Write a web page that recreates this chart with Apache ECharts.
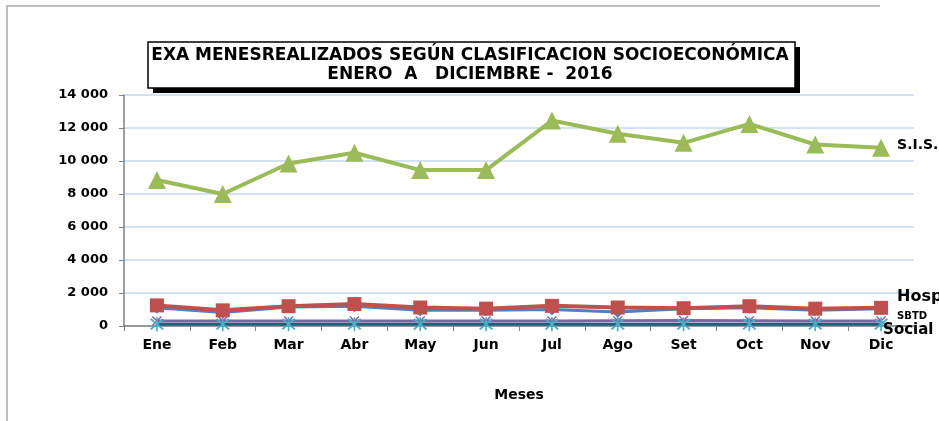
<!DOCTYPE html>
<html>
<head>
<meta charset="utf-8">
<style>
  html, body { margin: 0; padding: 0; background: #fff; }
  #chart { width: 939px; height: 421px; }
</style>
</head>
<body>
<div id="chart"></div>
<script src="https://cdn.jsdelivr.net/npm/echarts@6/dist/echarts.min.js"></script>
<script>
const meses = ['Ene', 'Feb', 'Mar', 'Abr', 'May', 'Jun', 'Jul', 'Ago', 'Set', 'Oct', 'Nov', 'Dic'];
const sis = [8850, 8000, 9850, 10500, 9450, 9450, 12450, 11650, 11100, 12250, 11000, 10800];
const hosp = [1250, 950, 1200, 1330, 1120, 1050, 1220, 1120, 1080, 1200, 1050, 1100];
const sbtd = [1100, 820, 1150, 1200, 960, 950, 1000, 850, 1050, 1100, 960, 1050];
const otros = [300, 300, 300, 300, 300, 300, 300, 320, 330, 320, 300, 300];
const social = [110, 110, 110, 110, 110, 110, 110, 110, 110, 110, 110, 110];
const titulo1 = 'EXA MENESREALIZADOS SEGÚN CLASIFICACION SOCIOECONÓMICA';
const titulo2 = 'ENERO  A   DICIEMBRE -  2016';

const fmt = v => String(v).replace(/\B(?=(\d{3})+(?!\d))/g, ' ');
const boldFont = '"DejaVu Sans", Verdana, sans-serif';
const titleFont = 'bold 17px "DejaVu Sans", Verdana, sans-serif';
const crossPath = 'path://M0,1L1,0L5,4L9,0L10,1L6,5L10,9L9,10L5,6L1,10L0,9L4,5Z';
const starPath = 'path://M0,1L1,0L5,4L9,0L10,1L6,5L10,9L9,10L5,6L1,10L0,9L4,5Z M4.4,-1h1.2v12h-1.2Z';

const chart = echarts.init(document.getElementById('chart'));

const endLbl = (text, dx, dy, size) => ({
  show: true,
  formatter: text,
  offset: [dx, dy],
  color: '#000',
  fontWeight: 'bold',
  fontSize: size,
  fontFamily: boldFont
});

chart.setOption({
  animation: false,
  grid: { left: 124, right: 25, top: 95, bottom: 95 },
  graphic: [
    { type: 'polyline', shape: { points: [[7, 421], [7, 6], [880, 6]] },
      style: { stroke: '#a6a6a6', lineWidth: 1.5, fill: null } },
    { type: 'rect', shape: { x: 153, y: 47, width: 647, height: 46 }, style: { fill: '#000' } },
    { type: 'rect', shape: { x: 148, y: 42, width: 647, height: 46 },
      style: { fill: '#fff', stroke: '#000', lineWidth: 1.5 } },
    { type: 'text', x: 470, y: 56, style: { text: titulo1, align: 'center', verticalAlign: 'middle',
      font: titleFont, fill: '#000' } },
    { type: 'text', x: 470, y: 75, style: { text: titulo2, align: 'center', verticalAlign: 'middle',
      font: titleFont, fill: '#000' } }
  ],
  xAxis: {
    type: 'category',
    data: meses,
    boundaryGap: true,
    name: 'Meses',
    nameLocation: 'middle',
    nameGap: 62,
    nameTextStyle: { fontWeight: 'bold', fontSize: 14, fontFamily: boldFont, color: '#000' },
    axisLine: { lineStyle: { color: '#808080', width: 1.5 } },
    axisTick: { show: true, inside: false, length: 5, lineStyle: { color: '#808080' } },
    axisLabel: { color: '#000', fontWeight: 'bold', fontSize: 14, fontFamily: boldFont, margin: 12 },
    splitLine: { show: false }
  },
  yAxis: {
    type: 'value',
    min: 0,
    max: 14000,
    interval: 2000,
    axisLine: { show: true, lineStyle: { color: '#808080', width: 1.5 } },
    axisTick: { show: true, length: 5, lineStyle: { color: '#808080' } },
    axisLabel: { color: '#000', fontWeight: 'bold', fontSize: 13, fontFamily: boldFont, margin: 16,
      formatter: fmt },
    splitLine: { lineStyle: { color: '#c6d9f1', width: 1.5 } }
  },
  series: [
    {
      name: 'Otros', type: 'line', data: otros,
      symbol: crossPath, symbolSize: 10,
      lineStyle: { color: '#8064a2', width: 3 },
      itemStyle: { color: '#8064a2' },
      z: 2
    },
    {
      name: 'Social', type: 'line', data: social,
      symbol: starPath, symbolSize: 14,
      lineStyle: { color: '#1f5f7a', width: 3 },
      itemStyle: { color: '#4bacc6' },
      endLabel: endLbl('Social', -6, 6, 15),
      z: 3
    },
    {
      name: 'SBTD', type: 'line', data: sbtd,
      symbol: 'diamond', symbolSize: 12,
      lineStyle: { color: '#4f81bd', width: 3 },
      itemStyle: { color: '#4f81bd' },
      endLabel: endLbl('SBTD', 8, 8, 10),
      z: 4
    },
    {
      name: 'Hosp', type: 'line', data: hosp,
      symbol: 'rect', symbolSize: 14,
      lineStyle: { color: '#c0504d', width: 4 },
      itemStyle: { color: '#c0504d' },
      endLabel: endLbl('Hosp', 8, -11, 16),
      z: 5
    },
    {
      name: 'S.I.S.', type: 'line', data: sis,
      symbol: 'triangle', symbolSize: 18,
      lineStyle: { color: '#9bbb59', width: 4 },
      itemStyle: { color: '#9bbb59' },
      endLabel: endLbl('S.I.S.', 8, -2, 14),
      z: 6
    }
  ]
});
</script>
</body>
</html>
